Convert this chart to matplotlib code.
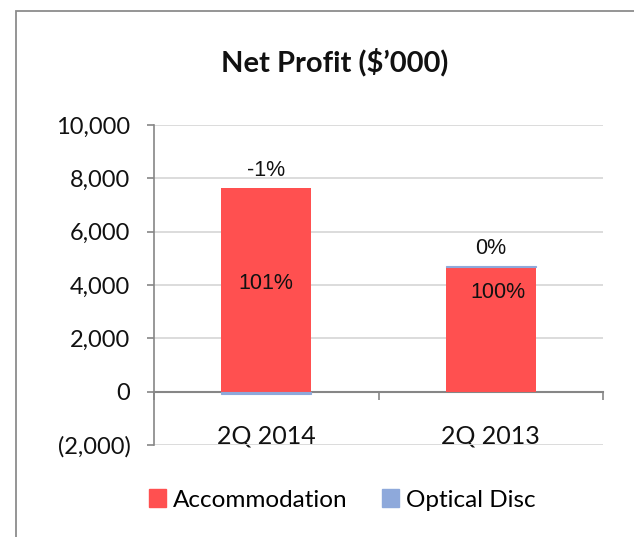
import matplotlib
matplotlib.use("Agg")
import matplotlib.pyplot as plt
from matplotlib.patches import Rectangle, Patch
from matplotlib.ticker import FuncFormatter, FixedLocator
import numpy as np

categories = ["2Q 2014", "2Q 2013"]
accommodation = [7650, 4690]
optical_disc = [-70, 20]
series_names = ["Accommodation", "Optical Disc"]
title = "Net Profit ($\u2019000)"

RED = "#FF5050"
BLUE = "#8EA9DB"

fig = plt.figure(figsize=(6.34, 5.37), dpi=100)
ax = fig.add_axes([154/634, 1-445/537, 449/634, 320/537])

x = np.arange(len(categories))
acc = np.array(accommodation, float)
opt = np.array(optical_disc, float)
w = 0.4
ax.bar(x, acc, width=w, color=RED, zorder=3)
opt_bottom = np.where(opt >= 0, acc, 0)
ax.bar(x, opt, width=w, bottom=opt_bottom, color=BLUE, edgecolor=BLUE, linewidth=0.8, zorder=3)

total = acc + opt
lab_font = dict(family="Liberation Sans", fontsize=15.5, color="#111111")
inner_shift = [220, 1360]
inner_dx = [0, 0.03]
for i in range(len(x)):
    pa = acc[i] / total[i] * 100
    po = opt[i] / total[i] * 100
    top = acc[i] + max(opt[i], 0)
    ax.text(x[i], top + 250, f"{po:.0f}%", ha="center", va="bottom", zorder=5, **lab_font)
    ax.text(x[i] + inner_dx[i], acc[i] / 2 + inner_shift[i], f"{pa:.0f}%",
            ha="center", va="center", zorder=5, **lab_font)

ax.set_xlim(-0.5, len(categories) - 0.5)
ax.set_ylim(-2000, 10000)
ax.set_yticks(np.arange(-2000, 10001, 2000))
ax.yaxis.set_major_formatter(FuncFormatter(lambda v, p: f"({abs(v):,.0f})" if v < 0 else f"{v:,.0f}"))
ax.grid(axis="y", color="#D9D9D9", linewidth=1.3, zorder=0)
ax.set_axisbelow(True)

for s in ["top", "right"]:
    ax.spines[s].set_visible(False)
ax.spines["left"].set_color("#868686")
ax.spines["left"].set_linewidth(1.2)
ax.spines["bottom"].set_position(("data", 0))
ax.spines["bottom"].set_color("#868686")
ax.spines["bottom"].set_linewidth(1.5)

ax.set_xticks(x)
ax.set_xticklabels(categories)
ax.xaxis.set_minor_locator(FixedLocator([-0.5, 0.5, 1.5]))
ax.tick_params(axis="x", which="major", length=0, pad=24, labelsize=18)
ax.tick_params(axis="x", which="minor", length=6, width=1.2, color="#868686", direction="out")
ax.tick_params(axis="y", length=5, width=1.2, color="#868686", labelsize=17, pad=12)
for lab in ax.get_xticklabels() + ax.get_yticklabels():
    lab.set_family("Lato")
    lab.set_color("#111111")

fig.text(335/634, 1-62/537, title, ha="center", va="center", fontsize=21,
         fontweight="bold", family="Lato", color="#111111")

handles = [Patch(color=RED), Patch(color=BLUE)]
leg = fig.legend(handles, series_names, loc="center", bbox_to_anchor=(342/634, 1-500/537),
                 ncol=2, frameon=False, handlelength=0.7, handleheight=0.7,
                 handletextpad=0.3, columnspacing=1.4, prop=dict(family="Lato", size=17.5))

fig.patches.append(Rectangle((16/634, -0.1), 1.2, 1 - 11/537 + 0.1, transform=fig.transFigure,
                             fill=False, edgecolor="#8C8C8C", linewidth=1.3, zorder=0))

fig.savefig("out.png", dpi=100)
